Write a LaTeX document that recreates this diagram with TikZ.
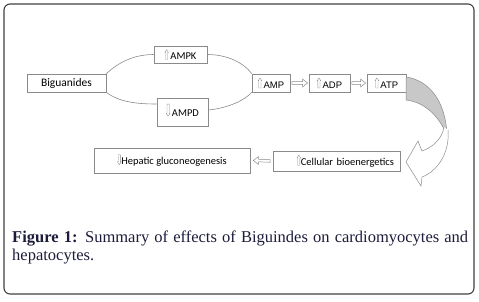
\documentclass[tikz,border=0pt]{standalone}
\usepackage{fontspec}
\setmainfont{Liberation Serif}
\newfontfamily\calib{Carlito}
\newfontfamily\arl{Liberation Sans}
\usetikzlibrary{calc}
\definecolor{boxline}{HTML}{8A8A8A}
\definecolor{captxt}{HTML}{1C1C3A}
\definecolor{bandgray}{HTML}{C8C8C8}
\newcommand\upar[1][9]{\tikz[baseline=0pt,x=1pt,y=1pt]\draw[boxline,line width=0.35pt] (0,0)--(0,#1-2.8)--(-0.8,#1-2.8)--(1.1,#1)--(3,#1-2.8)--(2.2,#1-2.8)--(2.2,0)--cycle;}
\newcommand\dnar[1][9]{\tikz[baseline=0pt,x=1pt,y=1pt]\draw[boxline,line width=0.35pt] (0,#1)--(0,2.8)--(-0.8,2.8)--(1.1,0)--(3,2.8)--(2.2,2.8)--(2.2,#1)--cycle;}
\newcommand\rarrow[2]{\draw[harr] ($(#1)+(1.5,-1.3)$) -- ($(#2)+(-6,-1.3)$) -- ($(#2)+(-6,-3.8)$) -- ($(#2)+(-1,0)$) -- ($(#2)+(-6,3.8)$) -- ($(#2)+(-6,1.3)$) -- ($(#1)+(1.5,1.3)$) -- cycle;}
\newcommand\larrow[2]{\draw[harr] ($(#1)+(-2.5,-1.3)$) -- ($(#2)+(8,-1.3)$) -- ($(#2)+(8,-3.8)$) -- ($(#2)+(3,0)$) -- ($(#2)+(8,3.8)$) -- ($(#2)+(8,1.3)$) -- ($(#1)+(-2.5,1.3)$) -- cycle;}
\begin{document}
\begin{tikzpicture}[x=1pt,y=-1pt,
  box/.style={draw=boxline,line width=0.6pt,inner sep=0pt,font=\calib\fontsize{10.5}{12}\selectfont},
  abox/.style={box,font=\arl\fontsize{9.5}{11}\selectfont,minimum height=18pt},
  curve/.style={draw=boxline,line width=0.6pt},
  harr/.style={draw=boxline,line width=0.5pt,fill=white},
  band/.style={draw=boxline,line width=0.5pt}]
\useasboundingbox (0,0) rectangle (479,301);
\draw[rounded corners=6pt,line width=1.1pt,draw=black!75] (4,4) rectangle (474,294);

\node[box,minimum width=79pt,minimum height=18pt,font=\calib\fontsize{11.5}{13}\selectfont] (big) at (66.5,83) {Biguanides};
\node[box,minimum width=53pt,minimum height=17pt] (ampk) at (180.5,54.5) {\upar[9.5]\,AMPK};
\node[box,minimum width=51pt,minimum height=28pt] (ampd) at (182.5,112) {\dnar[12]\,AMPD\rule[-4pt]{0pt}{0pt}};
\node[abox,minimum width=38pt] (amp) at (271,83) {\upar[10]\,AMP};
\node[abox,minimum width=41pt] (adp) at (329.5,83) {\upar[10]\,ADP};
\node[abox,minimum width=39pt] (atp) at (386.5,83) {\upar[10]\,ATP};
\node[box,minimum width=156pt,minimum height=25pt] (hep) at (172,160.5) {\dnar[10]Hepatic gluconeogenesis};
\node[box,inner xsep=6pt,text width=115pt,align=right,minimum height=20pt] (cell) at (336.5,161) {\upar[10]Cellular bioenergetics};

\draw[curve] (big.north east) .. controls +(13,-12) and +(-19,0) .. (ampk.west);
\draw[curve] (ampk.east) .. controls +(21,0) and +(-7,-10) .. (amp.north west);
\draw[curve] (big.south east) .. controls +(13,10) and +(-19,0) .. ($(ampd.west)+(0,-8)$);
\draw[curve] ($(ampd.east)+(0,-2)$) .. controls +(20,-2) and +(-7,8) .. (amp.south west);

\rarrow{amp.east}{adp.west}
\rarrow{adp.east}{atp.west}
\larrow{cell.west}{hep.east}

\filldraw[band,fill=bandgray] (406,77) .. controls (428,80) and (446,100) .. (447,136) .. controls (440,117) and (425,102) .. (406,100) -- cycle;
\filldraw[band,fill=white] (448,130) .. controls (450,152) and (438,171) .. (422,177) -- (421,186) -- (406,162) -- (418,141) -- (422,151) .. controls (433,147) and (442,139) .. (444,127);

\node[anchor=north west,text width=456pt,align=justify,inner sep=0pt,font=\fontsize{16.5}{17.5}\selectfont,text=captxt] (cap) at (12,231) {\textbf{Figure 1:} Summary of effects of Biguindes on cardiomyocytes and\linebreak hepatocytes.};
\end{tikzpicture}
\end{document}
